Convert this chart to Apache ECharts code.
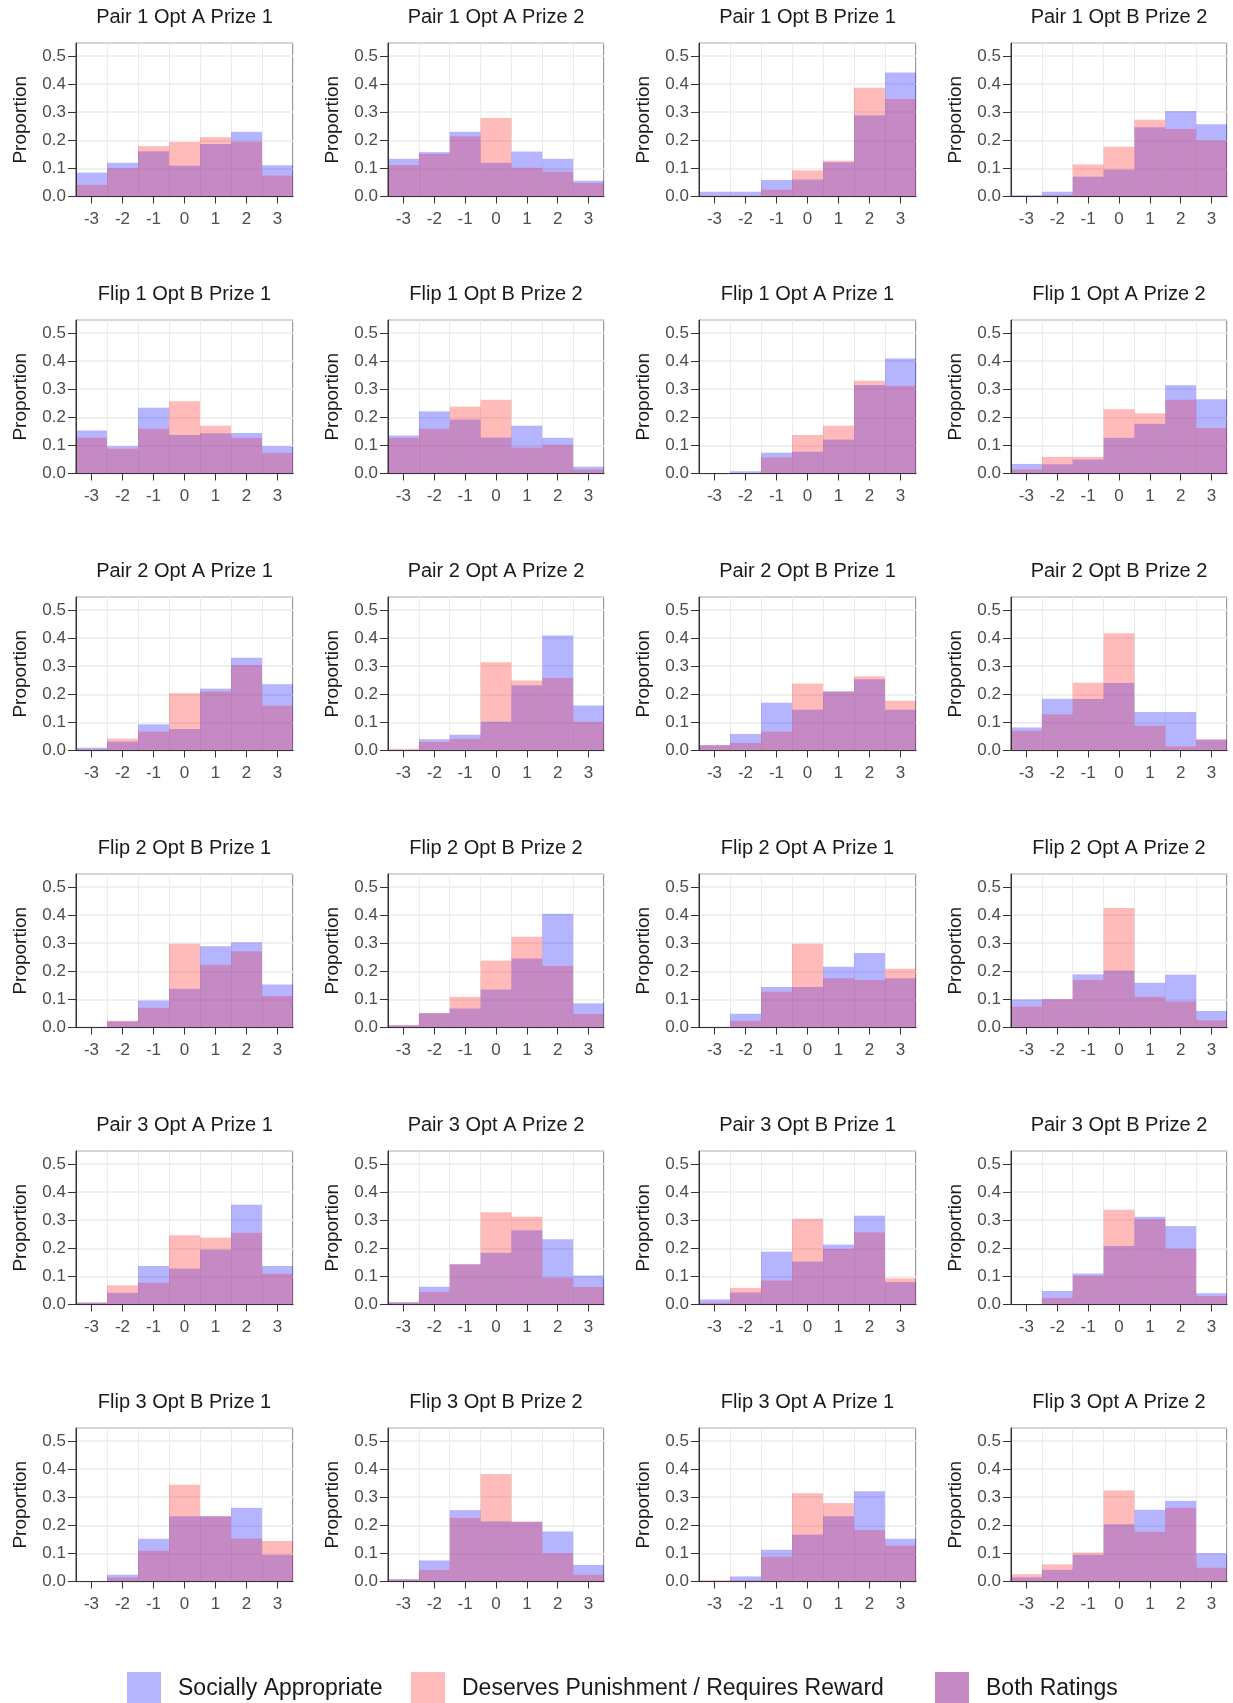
<!DOCTYPE html>
<html>
<head>
<meta charset="utf-8">
<script src="https://cdn.jsdelivr.net/npm/echarts@6/dist/echarts.min.js"></script>
<style>
html,body{margin:0;padding:0;background:#ffffff;}
#chart{width:1233px;height:1703px;}
</style>
</head>
<body>
<div id="chart"></div>
<script>
// ---------- DATA ----------
const bins = ['-3', '-2', '-1', '0', '1', '2', '3'];
const yTickValues = [0, 0.1, 0.2, 0.3, 0.4, 0.5];

const panelTitles = [
  'Pair 1 Opt A Prize 1', 'Pair 1 Opt A Prize 2', 'Pair 1 Opt B Prize 1', 'Pair 1 Opt B Prize 2',
  'Flip 1 Opt B Prize 1', 'Flip 1 Opt B Prize 2', 'Flip 1 Opt A Prize 1', 'Flip 1 Opt A Prize 2',
  'Pair 2 Opt A Prize 1', 'Pair 2 Opt A Prize 2', 'Pair 2 Opt B Prize 1', 'Pair 2 Opt B Prize 2',
  'Flip 2 Opt B Prize 1', 'Flip 2 Opt B Prize 2', 'Flip 2 Opt A Prize 1', 'Flip 2 Opt A Prize 2',
  'Pair 3 Opt A Prize 1', 'Pair 3 Opt A Prize 2', 'Pair 3 Opt B Prize 1', 'Pair 3 Opt B Prize 2',
  'Flip 3 Opt B Prize 1', 'Flip 3 Opt B Prize 2', 'Flip 3 Opt A Prize 1', 'Flip 3 Opt A Prize 2'
];

// "Socially Appropriate" proportions per panel (bins -3..3)
const sociallyAppropriate = [
  [0.085, 0.120, 0.161, 0.110, 0.187, 0.230, 0.111],
  [0.134, 0.158, 0.230, 0.120, 0.160, 0.134, 0.056],
  [0.017, 0.017, 0.059, 0.061, 0.122, 0.289, 0.441],
  [0.005, 0.017, 0.071, 0.096, 0.246, 0.304, 0.257],
  [0.153, 0.097, 0.234, 0.137, 0.143, 0.144, 0.097],
  [0.135, 0.221, 0.192, 0.128, 0.170, 0.127, 0.024],
  [0.000, 0.008, 0.074, 0.078, 0.121, 0.315, 0.409],
  [0.034, 0.033, 0.050, 0.127, 0.177, 0.314, 0.264],
  [0.010, 0.032, 0.093, 0.077, 0.220, 0.330, 0.236],
  [0.000, 0.040, 0.056, 0.103, 0.232, 0.409, 0.160],
  [0.019, 0.059, 0.170, 0.146, 0.211, 0.253, 0.146],
  [0.082, 0.184, 0.183, 0.240, 0.137, 0.137, 0.039],
  [0.003, 0.022, 0.096, 0.138, 0.289, 0.303, 0.153],
  [0.008, 0.051, 0.068, 0.135, 0.245, 0.405, 0.086],
  [0.003, 0.049, 0.144, 0.144, 0.216, 0.265, 0.175],
  [0.100, 0.101, 0.189, 0.203, 0.159, 0.188, 0.059],
  [0.007, 0.042, 0.137, 0.128, 0.196, 0.355, 0.137],
  [0.008, 0.063, 0.143, 0.184, 0.264, 0.232, 0.103],
  [0.018, 0.043, 0.188, 0.153, 0.213, 0.316, 0.080],
  [0.000, 0.048, 0.110, 0.208, 0.312, 0.279, 0.040],
  [0.000, 0.024, 0.152, 0.232, 0.232, 0.262, 0.095],
  [0.008, 0.075, 0.254, 0.214, 0.212, 0.178, 0.059],
  [0.000, 0.018, 0.113, 0.167, 0.232, 0.321, 0.152],
  [0.015, 0.042, 0.095, 0.204, 0.255, 0.287, 0.101]
];

// "Deserves Punishment / Requires Reward" proportions per panel (bins -3..3)
const deservesPunishment = [
  [0.042, 0.101, 0.179, 0.194, 0.211, 0.196, 0.075],
  [0.113, 0.151, 0.214, 0.279, 0.103, 0.089, 0.048],
  [0.004, 0.004, 0.025, 0.093, 0.127, 0.387, 0.348],
  [0.000, 0.006, 0.114, 0.177, 0.273, 0.240, 0.200],
  [0.128, 0.089, 0.160, 0.257, 0.170, 0.127, 0.074],
  [0.127, 0.160, 0.238, 0.262, 0.093, 0.103, 0.015],
  [0.000, 0.000, 0.058, 0.137, 0.170, 0.330, 0.312],
  [0.015, 0.059, 0.059, 0.229, 0.214, 0.262, 0.163],
  [0.005, 0.042, 0.068, 0.204, 0.211, 0.304, 0.160],
  [0.006, 0.031, 0.042, 0.314, 0.249, 0.258, 0.103],
  [0.019, 0.027, 0.068, 0.238, 0.208, 0.264, 0.177],
  [0.071, 0.129, 0.241, 0.417, 0.089, 0.015, 0.039],
  [0.000, 0.024, 0.071, 0.298, 0.223, 0.271, 0.113],
  [0.008, 0.051, 0.109, 0.238, 0.323, 0.220, 0.049],
  [0.000, 0.024, 0.128, 0.298, 0.175, 0.169, 0.209],
  [0.075, 0.101, 0.170, 0.425, 0.110, 0.093, 0.026],
  [0.007, 0.068, 0.078, 0.246, 0.238, 0.255, 0.110],
  [0.008, 0.046, 0.143, 0.328, 0.312, 0.096, 0.063],
  [0.007, 0.059, 0.086, 0.305, 0.197, 0.257, 0.093],
  [0.000, 0.024, 0.103, 0.337, 0.303, 0.198, 0.030],
  [0.000, 0.015, 0.110, 0.344, 0.232, 0.154, 0.144],
  [0.008, 0.042, 0.228, 0.382, 0.214, 0.101, 0.025],
  [0.005, 0.005, 0.089, 0.314, 0.279, 0.184, 0.128],
  [0.026, 0.061, 0.103, 0.324, 0.178, 0.262, 0.050]
];

const seriesNames = ['Socially Appropriate', 'Deserves Punishment / Requires Reward', 'Both Ratings'];

// ---------- LAYOUT / STYLE ----------
const FONT = '"Liberation Sans", Arial, sans-serif';
const Y_MAX = 0.546;
const colLeft = [76, 388, 699, 1011];
const colWidth = [217, 216, 217, 216];
const rowTop0 = 43, rowStep = 277, plotH = 153.5;
const colors = {
  blue: 'rgba(0,0,255,0.29)',
  red: 'rgba(255,0,0,0.27)',
  both: 'rgba(140,20,135,0.5)'
};

const grid = [], xAxis = [], yAxis = [], series = [], title = [];
const r4 = v => Math.max(0, Math.round(v * 10000) / 10000);

panelTitles.forEach((name, i) => {
  const r = Math.floor(i / 4), c = i % 4;
  const top = rowTop0 + rowStep * r;
  grid.push({
    left: colLeft[c], top: top, width: colWidth[c], height: plotH,
    show: true, borderColor: '#333333', borderWidth: 1, backgroundColor: '#ffffff'
  });
  title.push({
    text: name, left: colLeft[c] + colWidth[c] / 2, top: top - 36, textAlign: 'center', padding: 0,
    textStyle: { fontFamily: FONT, fontSize: 20, fontWeight: 'normal', color: '#1a1a1a' }
  });
  // main x axis (line, ticks, labels) drawn above bars
  xAxis.push({
    type: 'category', gridIndex: i, data: bins, boundaryGap: true, z: 5,
    axisLine: { show: true, lineStyle: { color: '#333333', width: 1 } },
    axisTick: { show: true, alignWithLabel: true, length: 7, interval: 0, lineStyle: { color: '#333333', width: 1 } },
    axisLabel: { show: true, interval: 0, margin: 14, color: '#4d4d4d', fontSize: 17, fontFamily: FONT },
    splitLine: { show: false }
  });
  // grid x axis (vertical lines at bin edges) drawn under bars
  xAxis.push({
    type: 'category', gridIndex: i, data: bins, boundaryGap: true, z: 0,
    axisLine: { show: false }, axisTick: { show: false }, axisLabel: { show: false },
    splitLine: { show: true, interval: 0, lineStyle: { color: '#ebebeb', width: 1 } }
  });
  yAxis.push({
    type: 'value', gridIndex: i, min: 0, max: Y_MAX, interval: 0.1, z: 5, position: 'left',
    name: 'Proportion', nameLocation: 'middle', nameGap: 46,
    nameTextStyle: { fontFamily: FONT, fontSize: 19, color: '#1a1a1a' },
    axisLine: { show: true, lineStyle: { color: '#333333', width: 1 } },
    axisTick: { show: true, length: 8, customValues: yTickValues, lineStyle: { color: '#333333', width: 1 } },
    axisLabel: { show: true, customValues: yTickValues, margin: 10, color: '#4d4d4d', fontSize: 17, fontFamily: FONT,
                 formatter: v => v.toFixed(1) },
    splitLine: { show: false }
  });
  yAxis.push({
    type: 'value', gridIndex: i, min: 0, max: Y_MAX, interval: 0.1, z: 0, position: 'left',
    axisLine: { show: false }, axisTick: { show: false }, axisLabel: { show: false },
    splitLine: { show: true, lineStyle: { color: '#ebebeb', width: 1.5 } }
  });

  const sa = sociallyAppropriate[i], dp = deservesPunishment[i];
  const both = sa.map((v, k) => r4(Math.min(v, dp[k])));
  const saEx = sa.map((v, k) => r4(v - both[k]));
  const dpEx = dp.map((v, k) => r4(v - both[k]));
  const common = { type: 'bar', xAxisIndex: 2 * i, yAxisIndex: 2 * i, stack: 'p' + i, barWidth: '100%', z: 2 };
  series.push(Object.assign({ name: seriesNames[2], data: both, itemStyle: { color: colors.both } }, common));
  series.push(Object.assign({ name: seriesNames[0], data: saEx, itemStyle: { color: colors.blue } }, common));
  series.push(Object.assign({ name: seriesNames[1], data: dpEx, itemStyle: { color: colors.red } }, common));
});

const legendBase = {
  top: 1672, padding: 0, itemWidth: 34, itemHeight: 34, icon: 'rect', selectedMode: false,
  textStyle: { fontFamily: FONT, fontSize: 23, color: '#1a1a1a', padding: [0, 0, 0, 12] }
};
const legend = [
  Object.assign({ left: 127, data: [seriesNames[0]] }, legendBase),
  Object.assign({ left: 411, data: [seriesNames[1]] }, legendBase),
  Object.assign({ left: 935, data: [seriesNames[2]] }, legendBase)
];

const chart = echarts.init(document.getElementById('chart'), null, { renderer: 'canvas' });
chart.setOption({
  animation: false,
  backgroundColor: '#ffffff',
  title: title,
  grid: grid,
  xAxis: xAxis,
  yAxis: yAxis,
  legend: legend,
  series: series
});
</script>
</body>
</html>
